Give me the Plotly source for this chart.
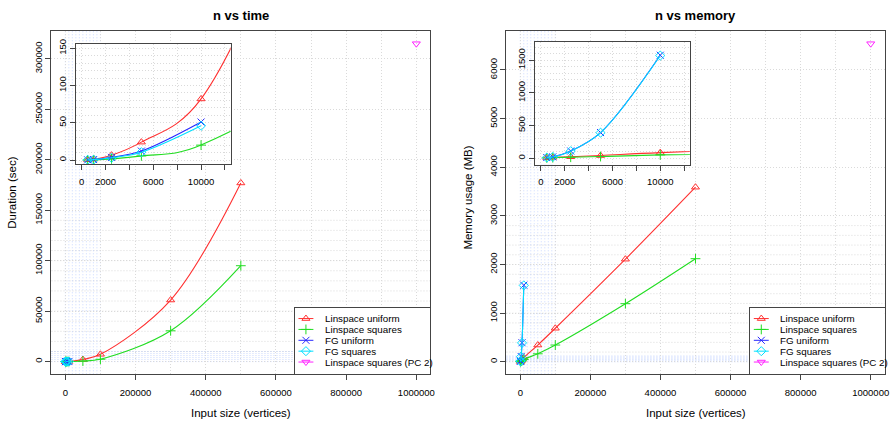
import plotly.graph_objects as go

# ---------------- data ----------------
series_names = ["Linspace uniform", "Linspace squares", "FG uniform",
                "FG squares", "Linspace squares (PC 2)"]

n_lin = [500, 1000, 2500, 5000, 10000, 50000, 100000, 300000, 500000]
n_fg = [500, 1000, 2500, 5000, 10000]
n_pc2 = [1000000]

time_lin_uniform = [0.3, 1.2, 6.5, 24, 82, 2000, 7200, 61000, 177000]
time_lin_squares = [0.1, 0.3, 1.5, 5.5, 20, 500, 2300, 30500, 95000]
time_fg_uniform = [0.2, 0.6, 3.5, 12, 51]
time_fg_squares = [0.2, 0.5, 3.0, 10.5, 46]
time_pc2 = [315000]

mem_lin_uniform = [8, 12, 22, 40, 85, 345, 690, 2110, 3590]
mem_lin_squares = [5, 8, 15, 25, 50, 165, 345, 1195, 2120]
mem_fg_uniform = [10, 20, 110, 392, 1575]
mem_fg_squares = [9, 19, 108, 390, 1570]
mem_pc2 = [6540]

main_x_ticks = [0, 200000, 400000, 600000, 800000, 1000000]
time_y_ticks = [0, 50000, 100000, 150000, 200000, 250000, 300000]
mem_y_ticks = [0, 1000, 2000, 3000, 4000, 5000, 6000]
inset_x_ticks = [0, 2000, 4000, 6000, 8000, 10000, 12000]
inset_x_labels = ["0", "2000", "", "6000", "", "10000", ""]
time_inset_y_ticks = [0, 50, 100, 150]
mem_inset_y_ticks = [0, 500, 1000, 1500]

colors = ["#FF3030", "#22DD22", "#2828FF", "#00E0FF", "#FF22FF"]
symbols = ["triangle-up-open", "cross-thin-open", "x-thin-open",
           "diamond-open", "triangle-down-open"]

# ---------------- layout helpers ----------------
W, H = 896, 424
FONT = "Liberation Sans, Arial, Helvetica, sans-serif"


def px(v):
    return v / W


def py(v):
    return 1 - v / H


def rrange(lo, hi):
    s = hi - lo
    return [lo - 0.04 * s, hi + 0.04 * s]


all_x = n_lin + n_fg + n_pc2
time_all = time_lin_uniform + time_lin_squares + time_fg_uniform + time_fg_squares + time_pc2
mem_all = mem_lin_uniform + mem_lin_squares + mem_fg_uniform + mem_fg_squares + mem_pc2

fig = go.Figure()


def add_series(xa, ya, x, y, i, line=True):
    c = colors[i]
    fig.add_trace(go.Scatter(
        x=x, y=y, xaxis=xa, yaxis=ya,
        mode="lines+markers" if line else "markers",
        line=dict(color=c, width=1.1, shape="spline", smoothing=1.0),
        marker=dict(symbol=symbols[i], size=7, color=c, line=dict(color=c, width=1)),
        name=series_names[i], showlegend=False, hoverinfo="skip",
        cliponaxis=True))


panels = [
    ("x", "y", "x2", "y2",
     [(n_lin, time_lin_uniform), (n_lin, time_lin_squares),
      (n_fg, time_fg_uniform), (n_fg, time_fg_squares), (n_pc2, time_pc2)]),
    ("x3", "y3", "x4", "y4",
     [(n_lin, mem_lin_uniform), (n_lin, mem_lin_squares),
      (n_fg, mem_fg_uniform), (n_fg, mem_fg_squares), (n_pc2, mem_pc2)]),
]

for mxa, mya, ixa, iya, data in panels:
    for i, (xs, ys) in enumerate(data):
        add_series(mxa, mya, xs, ys, i, line=(i != 4))
    for i, (xs, ys) in enumerate(data[:4]):
        add_series(ixa, iya, xs, ys, i)

# ---------------- axes ----------------
GRID = "#DADADA"
AXC = "#444444"
DOT = "1px,2px"
tickfont = dict(family=FONT, size=9.5, color="black")


def main_x(domain):
    return dict(domain=domain, range=rrange(min(all_x), max(all_x)),
                tickvals=main_x_ticks, ticktext=[str(t) for t in main_x_ticks],
                ticks="outside", ticklen=5, tickcolor=AXC, tickfont=tickfont,
                ticklabelstandoff=4,
                showline=True, mirror=True, linecolor=AXC, linewidth=1,
                zeroline=False, showgrid=True, gridcolor=GRID, griddash=DOT,
                minor=dict(dtick=100000, tick0=0, showgrid=True, gridcolor=GRID,
                           griddash=DOT, ticks=""))


def main_y(domain, rng, ticks, anchor):
    return dict(domain=domain, range=rng, anchor=anchor,
                tickvals=ticks, ticktext=[str(t) for t in ticks],
                tickangle=-90, ticks="outside", ticklen=5, tickcolor=AXC,
                tickfont=tickfont,
                showline=True, mirror=True, linecolor=AXC, linewidth=1,
                zeroline=False, showgrid=True, gridcolor=GRID, griddash=DOT)


def inset_x(domain, anchor):
    return dict(domain=domain, range=rrange(0, 12000), anchor=anchor,
                tickvals=inset_x_ticks, ticktext=inset_x_labels,
                ticks="outside", ticklen=5, tickcolor=AXC, tickfont=tickfont,
                ticklabelstandoff=3,
                showline=True, mirror=True, linecolor=AXC, linewidth=1,
                zeroline=False, showgrid=True, gridcolor=GRID, griddash=DOT)


def inset_y(domain, rng, ticks, minor, anchor):
    return dict(domain=domain, range=rng, anchor=anchor,
                tickvals=ticks, ticktext=[str(t) for t in ticks],
                tickangle=-90, ticks="outside", ticklen=5, tickcolor=AXC,
                tickfont=tickfont,
                showline=True, mirror=True, linecolor=AXC, linewidth=1,
                zeroline=False, showgrid=True, gridcolor=GRID, griddash=DOT,
                minor=dict(dtick=minor, tick0=0, showgrid=True, gridcolor=GRID,
                           griddash=DOT, ticks=""))


main_ydom = [py(373.7), py(26.3)]
left_xdom = [px(51.7), px(432.3)]
right_xdom = [px(508.7), px(888.7)]

fig.update_layout(
    xaxis=dict(main_x(left_xdom), anchor="y"),
    yaxis=main_y(main_ydom, rrange(min(time_all), max(time_all)), time_y_ticks, "x"),
    xaxis2=inset_x([px(76.3), px(231.7)], "y2"),
    yaxis2=inset_y([py(161.0), py(39.3)], [-5.5, 156], time_inset_y_ticks, 10, "x2"),
    xaxis3=dict(main_x(right_xdom), anchor="y3"),
    yaxis3=main_y(main_ydom, rrange(min(mem_all), max(mem_all)), mem_y_ticks, "x3"),
    xaxis4=inset_x([px(537.5), px(693.0)], "y4"),
    yaxis4=inset_y([py(161.5), py(37.2)], [-98, 1781], mem_inset_y_ticks, 100, "x4"),
)

# ---------------- extra grid shapes ----------------
shapes = []
LB = "rgba(130,165,255,0.42)"


def hline(xref, yref, y, color, dash):
    shapes.append(dict(type="line", xref=xref + " domain", yref=yref, x0=0, x1=1,
                       y0=y, y1=y, line=dict(color=color, width=1, dash=dash),
                       layer="below"))


def vline(xref, yref, x, color, dash):
    shapes.append(dict(type="line", xref=xref, yref=yref + " domain", x0=x, x1=x,
                       y0=0, y1=1, line=dict(color=color, width=1, dash=dash),
                       layer="below"))


# lower-region minor grid on main plots
for k in range(1, 15):
    hline("x", "y", k * 10000, GRID, DOT)
for k in range(1, 15):
    hline("x3", "y3", k * 200, GRID, DOT)
# faint light-blue hatch near the origin
for k in range(0, 11):
    vline("x", "y", k * 10000, LB, DOT)
    vline("x3", "y3", k * 10000, LB, DOT)
for k in range(0, 6):
    hline("x", "y", k * 2000, LB, DOT)
    hline("x3", "y3", k * 24, LB, DOT)
for k in range(0, 11):
    vline("x2", "y2", k * 100, LB, DOT)
    vline("x4", "y4", k * 100, LB, DOT)
for k in range(0, 6):
    hline("x2", "y2", k * 2, LB, DOT)
    hline("x4", "y4", k * 20, LB, DOT)

fig.update_layout(shapes=shapes)

# ---------------- custom legends ----------------
annotations = []


def add_legend(xa, ya, left, right, top, bottom, sym_x, text_x):
    w = right - left
    h = bottom - top
    fig.layout[xa.replace("x", "xaxis")] = dict(
        domain=[px(left), px(right)], range=[0, w], anchor=ya,
        showline=True, mirror=True, linecolor=AXC, linewidth=1,
        showgrid=False, zeroline=False, showticklabels=False, ticks="")
    fig.layout[ya.replace("y", "yaxis")] = dict(
        domain=[py(bottom), py(top)], range=[h, 0], anchor=xa,
        showline=True, mirror=True, linecolor=AXC, linewidth=1,
        showgrid=False, zeroline=False, showticklabels=False, ticks="")
    for i, name in enumerate(series_names):
        yy = 11 + 11 * i
        c = colors[i]
        fig.add_trace(go.Scatter(x=[sym_x - 7.5, sym_x + 7.5], y=[yy, yy],
                                 xaxis=xa, yaxis=ya, mode="lines",
                                 line=dict(color=c, width=1),
                                 showlegend=False, hoverinfo="skip"))
        fig.add_trace(go.Scatter(x=[sym_x], y=[yy], xaxis=xa, yaxis=ya,
                                 mode="markers",
                                 marker=dict(symbol=symbols[i], size=7, color=c,
                                             line=dict(color=c, width=1)),
                                 showlegend=False, hoverinfo="skip"))
        annotations.append(dict(xref=xa, yref=ya, x=text_x, y=yy, text=name,
                                showarrow=False, xanchor="left", yanchor="middle",
                                font=dict(family=FONT, size=9.8, color="black")))


add_legend("x5", "y5", 296.3, 432.3, 306.3, 373.7, 11.0, 28.5)
add_legend("x6", "y6", 753.7, 888.7, 306.3, 373.7, 11.0, 27.6)

# ---------------- titles ----------------
titles = [
    ("<b>n vs time</b>", 242, 11, 13, 0),
    ("<b>n vs memory</b>", 699, 11, 13, 0),
    ("Input size (vertices)", 242, 413, 11.5, 0),
    ("Input size (vertices)", 699, 413, 11.5, 0),
    ("Duration (sec)", 12, 190, 11.5, -90),
    ("Memory usage (MB)", 470, 195, 11.5, -90),
]
for text, x, y, size, ang in titles:
    annotations.append(dict(xref="paper", yref="paper", x=px(x), y=py(y), text=text,
                            showarrow=False, xanchor="center", yanchor="middle",
                            textangle=ang,
                            font=dict(family=FONT, size=size, color="black")))

fig.update_layout(
    annotations=annotations,
    width=W, height=H,
    margin=dict(l=0, r=0, t=0, b=0),
    paper_bgcolor="white", plot_bgcolor="white",
    showlegend=False,
    font=dict(family=FONT, size=10, color="black"),
)

fig.write_html("out.html", config={"displayModeBar": False},
               post_script="document.body.style.margin='0';")
